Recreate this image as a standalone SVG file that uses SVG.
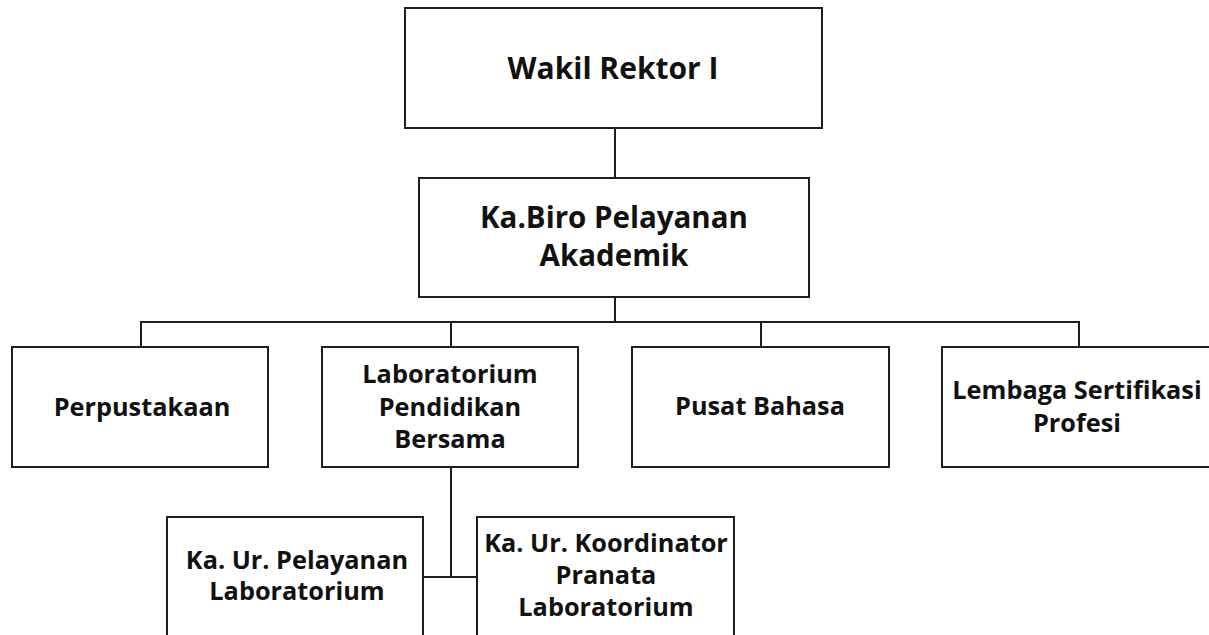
<svg xmlns="http://www.w3.org/2000/svg" width="1209" height="635" viewBox="0 0 1209 635">
<style>
.box{fill:#fff;stroke:#1e1e1e;stroke-width:2}
.ln{fill:none;stroke:#1e1e1e;stroke-width:2}
text{font-family:"Open Sans","Noto Sans","DejaVu Sans",sans-serif;font-weight:700;fill:#111;text-anchor:middle}
.t1{font-size:30px}
.t2{font-size:29.5px}
.t3{font-size:25.3px}
</style>
<rect width="1209" height="635" fill="#fff"/>
<g id="connectors">
<line class="ln" x1="615" y1="128" x2="615" y2="178"/>
<line class="ln" x1="615" y1="297" x2="615" y2="322"/>
<polyline class="ln" points="141,347 141,322 1079,322 1079,347"/>
<line class="ln" x1="451" y1="322" x2="451" y2="347"/>
<line class="ln" x1="761" y1="322" x2="761" y2="347"/>
<line class="ln" x1="451" y1="467" x2="451" y2="577"/>
<line class="ln" x1="424" y1="577" x2="477" y2="577"/>
</g>
<g id="wakil">
<rect class="box" x="405" y="8" width="417" height="120"/>
<text class="t1" x="613" y="79">Wakil Rektor I</text>
</g>
<g id="kabiro">
<rect class="box" x="419" y="178" width="390" height="119"/>
<text class="t2" x="614" y="228">Ka.Biro Pelayanan</text>
<text class="t2" x="614" y="266">Akademik</text>
</g>
<g id="perpustakaan">
<rect class="box" x="12" y="347" width="256" height="120"/>
<text class="t3" x="142" y="416">Perpustakaan</text>
</g>
<g id="laboratorium">
<rect class="box" x="322" y="347" width="256" height="120"/>
<text class="t3" x="450" y="383">Laboratorium</text>
<text class="t3" x="450" y="415.5">Pendidikan</text>
<text class="t3" x="450" y="447.5">Bersama</text>
</g>
<g id="pusat-bahasa">
<rect class="box" x="632" y="347" width="257" height="120"/>
<text class="t3" x="760" y="415">Pusat Bahasa</text>
</g>
<g id="lsp">
<rect class="box" x="942" y="347" width="290" height="120"/>
<text class="t3" x="1077" y="399">Lembaga Sertifikasi</text>
<text class="t3" x="1077" y="432">Profesi</text>
</g>
<g id="ka-ur-pelayanan">
<rect class="box" x="167" y="517" width="256" height="140"/>
<text class="t3" x="297" y="569">Ka. Ur. Pelayanan</text>
<text class="t3" x="297" y="600">Laboratorium</text>
</g>
<g id="ka-ur-koordinator">
<rect class="box" x="477" y="517" width="257" height="140"/>
<text class="t3" x="606" y="551.5">Ka. Ur. Koordinator</text>
<text class="t3" x="606" y="584">Pranata</text>
<text class="t3" x="606" y="616">Laboratorium</text>
</g>
</svg>
